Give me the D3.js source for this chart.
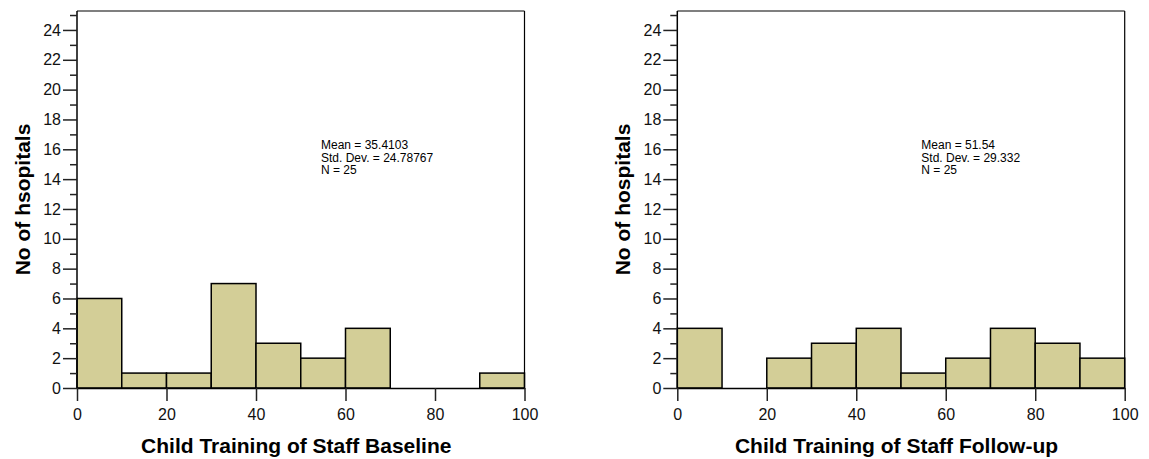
<!DOCTYPE html>
<html>
<head>
<meta charset="utf-8">
<script src="https://cdn.jsdelivr.net/npm/d3@7"></script>
<style>
  html, body { margin: 0; padding: 0; background: #fff; }
  svg { display: block; font-family: "Liberation Sans", Arial, sans-serif; }
</style>
</head>
<body>
<svg id="chart" width="1149" height="459"></svg>
<script>
// ---- data ----
const binStarts = [0, 10, 20, 30, 40, 50, 60, 70, 80, 90];
const binWidth = 10;
const baselineCounts = [6, 1, 1, 7, 3, 2, 4, 0, 0, 1];
const followupCounts = [4, 0, 2, 3, 4, 1, 2, 4, 3, 2];
const xTicks = [0, 20, 40, 60, 80, 100];
const yMajorTicks = [0, 2, 4, 6, 8, 10, 12, 14, 16, 18, 20, 22, 24];
const yMinorTicks = [1, 3, 5, 7, 9, 11, 13, 15, 17, 19, 21, 23, 25];
const xTitles = ["Child Training of Staff Baseline", "Child Training of Staff Follow-up"];
const yTitles = ["No of hsopitals", "No of hospitals"];
const statsBaseline = ["Mean = 35.4103", "Std. Dev. = 24.78767", "N = 25"];
const statsFollowup = ["Mean = 51.54", "Std. Dev. = 29.332", "N = 25"];

const panels = [
  { counts: baselineCounts, stats: statsBaseline, xTitle: xTitles[0], yTitle: yTitles[0], left: 77, right: 524.5 },
  { counts: followupCounts, stats: statsFollowup, xTitle: xTitles[1], yTitle: yTitles[1], left: 677.3, right: 1124.7 }
];

const plotTop = 11, plotBottom = 388;
const fill = "#d3ce97";
const svg = d3.select("#chart");

panels.forEach(p => {
  const x = d3.scaleLinear().domain([0, 100]).range([p.left, p.right]);
  const y = d3.scaleLinear().domain([0, 25.27]).range([plotBottom, plotTop]);
  const g = svg.append("g");

  // bars
  g.selectAll("rect.bar").data(binStarts).join("rect")
    .attr("class", "bar")
    .attr("x", (d) => x(d))
    .attr("width", (d) => x(d + binWidth) - x(d))
    .attr("y", (d, i) => y(p.counts[i]))
    .attr("height", (d, i) => y(0) - y(p.counts[i]))
    .attr("fill", fill)
    .attr("stroke", "#000")
    .attr("stroke-width", 1.5);

  // frame top and right
  g.append("line").attr("x1", p.left).attr("x2", p.right).attr("y1", plotTop).attr("y2", plotTop)
    .attr("stroke", "#000").attr("stroke-width", 1.2);
  g.append("line").attr("x1", p.right).attr("x2", p.right).attr("y1", plotTop).attr("y2", plotBottom)
    .attr("stroke", "#000").attr("stroke-width", 1.2);

  // y axis major
  const yAxis = g.append("g").attr("transform", `translate(${p.left},0)`)
    .call(d3.axisLeft(y).tickValues(yMajorTicks).tickSize(14).tickSizeOuter(0).tickPadding(2));
  // y axis minor
  const yMinor = g.append("g").attr("transform", `translate(${p.left},0)`)
    .call(d3.axisLeft(y).tickValues(yMinorTicks).tickSize(7).tickSizeOuter(0).tickFormat(""));
  yMinor.select(".domain").remove();

  // x axis
  const xAxis = g.append("g").attr("transform", `translate(0,${plotBottom})`)
    .call(d3.axisBottom(x).tickValues(xTicks).tickSize(13).tickSizeOuter(0).tickPadding(8));

  [yAxis, yMinor, xAxis].forEach(a => {
    a.selectAll(".domain").attr("stroke", "#000").attr("stroke-width", 1.5);
    a.selectAll(".tick line").attr("stroke", "#222").attr("stroke-width", 1.5);
    a.selectAll(".tick text").attr("font-size", 16).attr("fill", "#111")
      .attr("font-family", "'Liberation Sans', Arial, sans-serif");
  });
  yAxis.select(".domain").attr("d", `M0,${plotTop}V${plotBottom}`);

  // stats text
  const sx = p.left + 244;
  g.selectAll("text.stat").data(p.stats).join("text")
    .attr("class", "stat")
    .attr("x", sx)
    .attr("y", (d, i) => 149 + i * 12.5)
    .attr("font-size", 12)
    .attr("fill", "#000")
    .text(d => d);

  // axis titles
  g.append("text")
    .attr("x", (p.left + p.right) / 2 - 4.5)
    .attr("y", 453)
    .attr("text-anchor", "middle")
    .attr("font-size", 21)
    .attr("font-weight", "bold")
    .text(p.xTitle);

  g.append("text")
    .attr("transform", `translate(${p.left - 47},${(plotTop + plotBottom) / 2}) rotate(-90)`)
    .attr("text-anchor", "middle")
    .attr("font-size", 21)
    .attr("font-weight", "bold")
    .text(p.yTitle);
});
</script>
</body>
</html>
